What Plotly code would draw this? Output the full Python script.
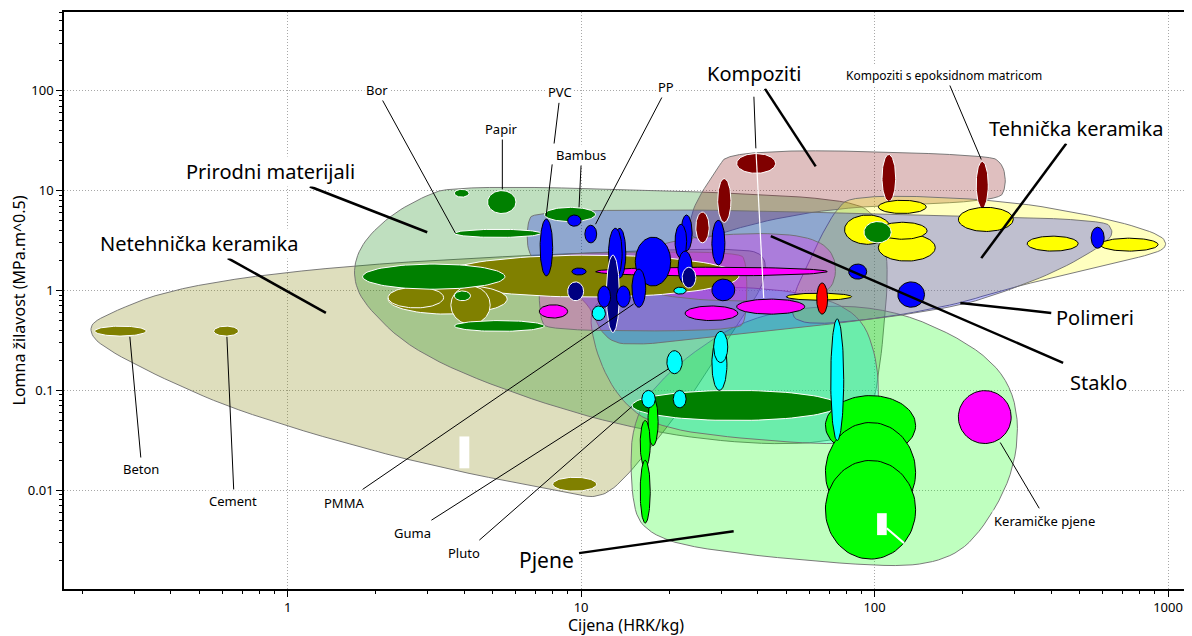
import numpy as np
import plotly.graph_objects as go

FONT = "Noto Sans"

# ---- obrisi skupina materijala: (cijena HRK/kg, lomna zilavost MPa.m^0.5) ----
netehnicka_keramika = [(0.209, 0.413), (0.229, 0.544), (0.423, 1.11), (1.70, 1.84), (13.2, 2.48),
                       (35.8, 2.65), (42.9, 2.21), (41.9, 1.11), (34.5, 0.50), (25.2, 0.111),
                       (17.0, 0.025), (12.9, 0.010), (11.1, 0.0085), (10.0, 0.0089), (2.75, 0.0186),
                       (0.743, 0.056), (0.388, 0.125), (0.229, 0.279)]
prirodni_materijali = [(1.66, 1.40), (1.76, 2.78), (2.17, 5.29), (2.81, 8.37), (3.70, 11.3), (25.2, 9.84),
                       (81.6, 8.18), (103, 5.54), (112, 1.97), (107, 0.313), (99.2, 0.0628), (81.6, 0.0315),
                       (40.3, 0.0281), (15.7, 0.0397), (6.35, 0.0847), (2.75, 0.233), (1.83, 0.70)]
pjene = [(14.8, 0.056), (21.5, 0.198), (40.3, 0.625), (103, 0.75), (226, 0.279), (309, 0.0887),
         (304, 0.0158), (222, 0.00317), (165, 0.00187), (103, 0.0017), (25.2, 0.00252),
         (16.4, 0.00381), (14.8, 0.00794)]
elastomeri = [(10.6, 0.785), (15.7, 0.989), (29.5, 1.11), (55.0, 0.989), (88.3, 0.625), (103, 0.198),
              (103, 0.050), (88.3, 0.028), (40.3, 0.0315), (18.4, 0.0415), (13.5, 0.079), (11.1, 0.249)]
kompoziti = [(32.6, 26.4), (244, 23.0), (275, 18.3), (281, 11.0), (264, 7.81), (81.6, 6.97),
             (40.3, 4.93), (25.2, 3.12), (23.3, 3.75), (23.9, 6.65), (28.3, 14.9)]
tehnicka_keramika = [(84.8, 9.18), (264, 8.18), (578, 5.54), (925, 3.75), (1000, 2.91), (925, 2.37),
                     (578, 1.75), (264, 0.989), (193, 0.733), (103, 0.52), (55.0, 0.443), (51, 0.70),
                     (59.7, 1.97), (72.6, 6.21)]
polimeri = [(6.55, 4.71), (6.92, 6.21), (25.2, 6.50), (112, 5.79), (601, 5.17), (655, 3.92), (615, 2.98),
            (423, 1.57), (264, 0.923), (193, 0.70), (103, 0.52), (37.3, 0.377), (15.7, 0.279),
            (12.0, 0.313), (10.6, 0.785), (7.20, 1.75), (6.55, 2.48)]
staklo_a = [(7.48, 2.37), (34.5, 2.48), (36.7, 1.88), (36.7, 0.52), (33.9, 0.394), (7.78, 0.394),
            (7.20, 0.52), (7.20, 1.88)]
staklo_b = [(14.6, 2.21), (21.5, 3.34), (40.3, 3.83), (62.1, 3.42), (74.3, 2.21), (72.6, 0.989),
            (55.0, 0.785), (25.2, 0.785), (15.7, 0.989)]

# ---- materijali: (cijena od, cijena do, zilavost od, zilavost do) ----
keramika_mat = [(0.22, 0.33, 0.35, 0.44), (0.56, 0.68, 0.35, 0.44), (3.3, 34.5, 0.86, 2.26),
                (2.2, 5.6, 0.58, 1.16), (2.2, 3.4, 0.67, 1.08), (3.6, 4.9, 0.46, 1.11),
                (8.0, 11.3, 0.0098, 0.0135)]
staklo_mat = [(11.2, 69, 1.40, 1.71), (33.9, 57.8, 0.58, 0.82), (22.6, 34.2, 0.50, 0.70),
              (7.2, 9.0, 0.53, 0.72)]
kompoziti_mat = [(24.6, 27.3, 3.0, 6.1), (29.2, 32.4, 4.8, 13.2), (33.9, 46, 14.9, 23.5),
                 (106, 118, 7.8, 23), (222, 244, 6.65, 19.6)]
tehnicka_mat = [(103, 150, 5.9, 8.0), (193, 297, 3.9, 6.8), (103, 161, 1.97, 3.66), (79, 114, 2.9, 5.7),
                (103, 151, 3.26, 4.82), (331, 494, 2.48, 3.50), (587, 925, 2.48, 3.34),
                (50, 83.5, 0.80, 0.94)]
priroda_mat = [(1.8, 5.5, 1.03, 1.84), (3.7, 4.2, 0.79, 0.99), (3.7, 7.5, 0.39, 0.50),
               (3.7, 7.3, 3.4, 4.1), (3.7, 4.15, 8.6, 10.3), (4.8, 6.0, 5.9, 10.0),
               (7.5, 11.2, 4.9, 6.8), (14.9, 75, 0.050, 0.10), (92, 114, 3.0, 4.9)]
polimeri_mat = [(7.25, 8.0, 1.4, 5.2), (9.0, 10.0, 4.4, 5.7), (10.3, 11.3, 3.0, 4.5), (9.3, 10.4, 1.43, 1.68),
                (12.9, 14.2, 1.33, 4.2), (12.4, 13.8, 1.33, 4.2), (15.3, 20.2, 1.11, 3.42),
                (21.9, 23.9, 2.5, 5.7), (20.9, 22.9, 2.1, 4.6), (21.4, 23.9, 1.16, 2.48),
                (27.9, 33.4, 0.79, 1.30), (27.9, 30.9, 1.8, 5.05), (81.6, 94, 1.30, 1.84),
                (120, 148, 0.68, 1.22), (547, 606, 2.65, 4.3)]
polimeri_tamni = [(12.2, 13.5, 0.38, 2.26), (9.0, 10.2, 0.79, 1.22), (22.1, 24.6, 1.06, 1.71)]
polimeri_prednji = [(11.4, 12.6, 0.68, 1.11), (13.2, 14.7, 0.68, 1.11), (14.9, 16.6, 0.68, 1.64)]
pjene_mat = [(16.9, 18.3, 0.028, 0.085), (15.9, 17.2, 0.017, 0.050), (15.9, 17.2, 0.0047, 0.020),
             (68, 138, 0.0223, 0.0887), (68, 138, 0.0048, 0.0477), (68, 138, 0.00205, 0.0199)]
elastomeri_mat = [(10.9, 12.1, 0.50, 0.70), (20.7, 22.8, 0.92, 1.08), (27.9, 31.4, 0.10, 0.34),
                  (28.3, 31.6, 0.19, 0.39), (19.6, 22.1, 0.147, 0.25), (16.1, 17.9, 0.067, 0.10),
                  (20.6, 22.8, 0.067, 0.10), (70.9, 78.5, 0.0315, 0.52)]
metali_mat = [(63.5, 69.2, 0.58, 1.19)]
keramicke_pjene_mat = [(193, 292, 0.0294, 0.0995)]
bijele_mrlje = [(3.85, 4.16, 0.0166, 0.0346), (102, 110, 0.00356, 0.0059)]

# ---- natpisi: (tekst, cijena, zilavost, velicina) ----
natpisi = [
    ("Netehnička keramika", 0.50, 2.98, 20), ("Prirodni materijali", 0.875, 15.6, 20),
    ("Kompoziti", 38.8, 148, 20), ("Tehnička keramika", 486, 41.8, 20),
    ("Polimeri", 565, 0.532, 20), ("Staklo", 578, 0.119, 20), ("Pjene", 7.6, 0.0020, 21),
    ("Kompoziti s epoksidnom matricom", 172, 141, 12), ("Bor", 2.01, 102, 13),
    ("PVC", 8.49, 97.7, 13), ("Papir", 5.35, 41.8, 13), ("Bambus", 10.0, 22.5, 13),
    ("PP", 19.5, 110, 13), ("Beton", 0.316, 0.0162, 13), ("Cement", 0.65, 0.00777, 13),
    ("PMMA", 1.56, 0.00741, 13), ("Guma", 2.66, 0.00372, 13), ("Pluto", 4.0, 0.00235, 13),
    ("Keramičke pjene", 378, 0.00491, 13),
]
# ---- spojnice: (c0, k0, c1, k1, debljina, boja) ----
spojnice = [
    (0.625, 2.11, 1.35, 0.597, 2.5, "black"), (1.19, 11.0, 2.99, 3.83, 2.5, "black"),
    (0.290, 0.344, 0.316, 0.0213, 1, "black"), (0.621, 0.344, 0.655, 0.0102, 1, "black"),
    (1.80, 0.0102, 15.1, 0.733, 1, "black"), (3.09, 0.00502, 19.9, 0.165, 1, "black"),
    (4.50, 0.00317, 14.9, 0.0689, 1, "black"), (9.84, 0.00235, 33.1, 0.0039, 2.5, "black"),
    (268, 0.0301, 364, 0.0066, 1, "black"), (2.10, 81.3, 3.73, 3.75, 1, "black"),
    (8.41, 75.9, 8.09, 29.6, 1, "black"), (7.97, 18.3, 7.60, 5.54, 1, "black"),
    (5.39, 33.2, 5.39, 10.3, 1, "black"), (10.0, 18.3, 9.84, 6.81, 1, "black"),
    (18.9, 87.1, 11.2, 4.61, 1, "black"), (38.8, 87.1, 39.4, 26.4, 1, "black"),
    (39.4, 26.4, 41.9, 0.842, 1.2, "white"), (42.3, 105, 63.0, 17.5, 2.5, "black"),
    (180, 115, 231, 20.5, 1, "black"), (450, 29.6, 231, 2.11, 2.5, "black"),
    (400, 0.597, 196, 0.75, 2.5, "black"), (44.3, 3.50, 439, 0.189, 2.5, "black"),
    (110, 0.00418, 126, 0.00296, 2, "white"),
]


def zaobli(tocke, koraci=3):
    p = np.log10(np.array(tocke, dtype=float))
    for _ in range(koraci):
        q = np.roll(p, -1, axis=0)
        p = np.stack([0.75 * p + 0.25 * q, 0.25 * p + 0.75 * q], axis=1).reshape(-1, 2)
    p = np.vstack([p, p[:1]])
    return 10 ** p[:, 0], 10 ** p[:, 1]


def elipsa(c_lo, c_hi, k_lo, k_hi, n=90):
    t = np.linspace(0, 2 * np.pi, n)
    cx = (np.log10(c_lo) + np.log10(c_hi)) / 2
    cy = (np.log10(k_lo) + np.log10(k_hi)) / 2
    rx = (np.log10(c_hi) - np.log10(c_lo)) / 2
    ry = (np.log10(k_hi) - np.log10(k_lo)) / 2
    return 10 ** (cx + rx * np.cos(t)), 10 ** (cy + ry * np.sin(t))


fig = go.Figure()

obrisi = [
    (netehnicka_keramika, "rgba(128,128,0,0.26)"),
    (prirodni_materijali, "rgba(0,128,0,0.25)"),
    (pjene, "rgba(0,255,0,0.25)"),
    (elastomeri, "rgba(0,255,255,0.25)"),
    (kompoziti, "rgba(128,0,0,0.25)"),
    (tehnicka_keramika, "rgba(255,255,0,0.25)"),
    (polimeri, "rgba(0,0,255,0.25)"),
    (staklo_a, "rgba(255,0,255,0.25)"),
    (staklo_b, "rgba(255,0,255,0.25)"),
]
for tocke, boja in obrisi:
    x, y = zaobli(tocke)
    fig.add_trace(go.Scatter(x=x, y=y, mode="lines", fill="toself", fillcolor=boja,
                             line=dict(color="rgba(110,110,110,0.9)", width=1),
                             hoverinfo="skip", showlegend=False))

skupine = [
    (keramika_mat, "#808000", "white"),
    (staklo_mat, "#ff00ff", "black"),
    (kompoziti_mat, "#800000", "white"),
    (tehnicka_mat, "#ffff00", "black"),
    (priroda_mat, "#008000", "white"),
    (polimeri_mat, "#0000ff", "black"),
    (polimeri_tamni, "#000080", "white"),
    (polimeri_prednji, "#0000ff", "black"),
    (pjene_mat, "#00ff00", "black"),
    (elastomeri_mat, "#00ffff", "black"),
    (metali_mat, "#ff0000", "black"),
    (keramicke_pjene_mat, "#ff00ff", "black"),
]
for lista, boja, rub in skupine:
    for c_lo, c_hi, k_lo, k_hi in lista:
        x, y = elipsa(c_lo, c_hi, k_lo, k_hi)
        fig.add_trace(go.Scatter(x=x, y=y, mode="lines", fill="toself", fillcolor=boja,
                                 line=dict(color=rub, width=1),
                                 hoverinfo="skip", showlegend=False))

for c_lo, c_hi, k_lo, k_hi in bijele_mrlje:
    fig.add_trace(go.Scatter(x=[c_lo, c_hi, c_hi, c_lo, c_lo], y=[k_lo, k_lo, k_hi, k_hi, k_lo],
                             mode="lines", fill="toself", fillcolor="white",
                             line=dict(color="white", width=0), hoverinfo="skip", showlegend=False))

for c0, k0, c1, k1, w, boja in spojnice:
    fig.add_trace(go.Scatter(x=[c0, c1], y=[k0, k1], mode="lines",
                             line=dict(color=boja, width=w), hoverinfo="skip", showlegend=False))

for tekst, c, k, vel in natpisi:
    fig.add_annotation(x=np.log10(c), y=np.log10(k), xref="x", yref="y", text=tekst,
                       showarrow=False, bgcolor="white", borderpad=1,
                       font=dict(family=FONT, size=vel, color="black"))

x_major = [1, 10, 100, 1000]
y_major = [0.01, 0.1, 1, 10, 100]
x_minor = [m * 10.0 ** e for e in range(-1, 4) for m in range(2, 10) if 0.17 < m * 10.0 ** e < 1170]
y_minor = [m * 10.0 ** e for e in range(-3, 3) for m in range(2, 10) if 0.001 <= m * 10.0 ** e < 614]

osi = dict(type="log", ticks="outside", ticklen=6, tickcolor="black", showline=True,
           linecolor="black", linewidth=1.5, mirror=True, showgrid=True, gridcolor="#a8a8a8",
           griddash="1px,2px", gridwidth=1, zeroline=False, tickfont=dict(size=13, color="black"))

fig.update_xaxes(range=[-0.762, 3.068], tickvals=x_major, ticktext=[str(v) for v in x_major],
                 minor=dict(tickvals=x_minor, ticks="outside", ticklen=3, tickcolor="black", showgrid=False),
                 title=dict(text="Cijena (HRK/kg)", font=dict(size=16, color="black"), standoff=6), **osi)
fig.update_yaxes(range=[-2.988, 2.788], tickvals=y_major, ticktext=["0.01", "0.1", "1", "10", "100"],
                 minor=dict(tickvals=y_minor, ticks="outside", ticklen=3, tickcolor="black", showgrid=False),
                 title=dict(text="Lomna žilavost (MPa.m^0.5)", font=dict(size=16, color="black"), standoff=6),
                 **osi)

# stranica ima 8 px ruba, pa je slika za toliko manja
fig.update_layout(width=1184, height=628, margin=dict(l=56, r=2, t=2, b=39),
                  plot_bgcolor="white", paper_bgcolor="white", showlegend=False,
                  font=dict(family=FONT, color="black", size=13))

fig.write_html("out.html")
